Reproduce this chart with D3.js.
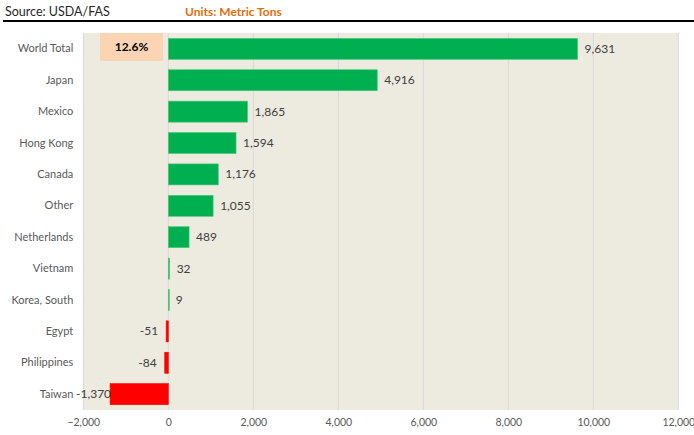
<!DOCTYPE html>
<html><head><meta charset="utf-8">
<script src="https://cdn.jsdelivr.net/npm/d3@7"></script>
<style>body{margin:0;background:#fff;}svg{display:block;font-family:Lato,"Open Sans",sans-serif;}</style>
</head><body>
<script>
const categories = ["World Total","Japan","Mexico","Hong Kong","Canada","Other","Netherlands","Vietnam","Korea, South","Egypt","Philippines","Taiwan"];
const values = [9631,4916,1865,1594,1176,1055,489,32,9,-51,-84,-1370];
const xTicks = [-2000,0,2000,4000,6000,8000,10000,12000];
const pctLabel = "12.6%";
const sourceText = "Source: USDA/FAS";
const unitsText = "Units: Metric Tons";

const W = 694, H = 435;
const svg = d3.select("body").append("svg").attr("width", W).attr("height", H);
const m = {left: 83.3, right: 678.3, top: 33, bottom: 410};

const x = d3.scaleLinear().domain([-2000, 12000]).range([m.left, m.right]);
const y = d3.scaleBand().domain(categories).range([m.top, m.bottom]).paddingInner(0.33).paddingOuter(0.17);

// header
svg.append("text").attr("x", 5).attr("y", 16).attr("font-size", 12.5).attr("fill", "#262626").text(sourceText);
svg.append("text").attr("x", 185).attr("y", 16).attr("font-size", 12).attr("font-weight", "bold").attr("fill", "#E46C0A").text(unitsText);
svg.append("line").attr("x1", 3).attr("x2", 694).attr("y1", 21).attr("y2", 21).attr("stroke", "#000").attr("stroke-width", 2);

// plot bg
svg.append("rect").attr("x", m.left).attr("y", m.top).attr("width", m.right - m.left).attr("height", m.bottom - m.top).attr("fill", "#EDEAE0");

// gridlines
svg.append("g").selectAll("line").data(xTicks).join("line")
  .attr("x1", d => x(d)).attr("x2", d => x(d)).attr("y1", m.top).attr("y2", m.bottom)
  .attr("stroke", "#D9D9D9").attr("stroke-width", 1);

// x axis
const xAxis = d3.axisBottom(x).tickValues(xTicks).tickFormat(d3.format(",")).tickSize(0).tickPadding(9);
const gx = svg.append("g").attr("transform", `translate(0,${m.bottom})`).call(xAxis);
gx.select(".domain").remove();
gx.selectAll("text").attr("font-size", 10.5).attr("fill", "#595959").attr("font-family", "Lato,'Open Sans',sans-serif");

// y labels
const yAxis = d3.axisLeft(y).tickSize(0).tickPadding(10);
const gy = svg.append("g").attr("transform", `translate(${m.left},0)`).call(yAxis);
gy.select(".domain").remove();
gy.selectAll("text").attr("font-size", 11).attr("fill", "#595959").attr("font-family", "Lato,'Open Sans',sans-serif");

// percent box
svg.append("rect").attr("x", 100).attr("y", 33).attr("width", 63).attr("height", 28).attr("fill", "#FBD4B4");
svg.append("text").attr("x", 131.5).attr("y", 51).attr("text-anchor", "middle").attr("font-size", 12).attr("font-weight", "bold").attr("fill", "#000").text(pctLabel);

// bars
const data = categories.map((c, i) => ({c, v: values[i]}));
svg.append("g").selectAll("rect").data(data).join("rect")
  .attr("x", d => x(Math.min(0, d.v)))
  .attr("y", d => y(d.c))
  .attr("width", d => Math.max(1, Math.abs(x(d.v) - x(0))))
  .attr("height", y.bandwidth())
  .attr("fill", d => d.v >= 0 ? "#00B050" : "#FF0000")
  .attr("stroke", d => d.v >= 0 ? "#4FC97E" : "#FF0000").attr("stroke-width", 0.6);

// value labels
svg.append("g").selectAll("text").data(data).join("text")
  .attr("x", d => d.v >= 0 ? x(d.v) + 7 : x(d.v) - (Math.abs(x(d.v) - x(0)) > 40 ? -1 : 8))
  .attr("y", d => y(d.c) + y.bandwidth() / 2 + 4)
  .attr("text-anchor", d => d.v >= 0 ? "start" : "end")
  .attr("font-size", 12).attr("fill", "#404040")
  .text(d => d3.format(",")(d.v).replace("−", "-"));
</script>
</body></html>
